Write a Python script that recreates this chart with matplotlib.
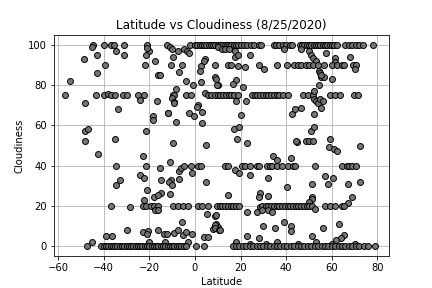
import matplotlib
matplotlib.use("Agg")
import matplotlib.pyplot as plt

# (latitude, cloudiness) pairs, grouped by band
band_100 = [(-44.6,100),(-40,100),(-36.7,100),(-35.7,100),(-31.2,100),(-21,100),(-12.4,100),(-2,100),(0,100),
            (1,100),(2,100),(3,100),(4,100),(5,100),(6,100),(7,100),(8,100),(9,100),(10,100),(11,100),(12,100),
            (13,100),(14,100),(15,100),(16,100),(17,100),(18,100),(19,100),(20,100),(21.5,100),(23,100),(24.5,100),
            (26,100),(28,100),(29,100),(34.5,100),(35.5,100),(37,100),(38.5,100),(40,100),(41.5,100),(42.7,100),
            (46,100),(47,100),(48,100),(49,100),(50,100),(51,100),(52,100),(53,100),(54,100),(55,100),(56,100),
            (57,100),(58,100),(59,100),(60,100),(61,100),(62.5,100),(66,100),(67.5,100),(69,100),(70.5,100),
            (72,100),(73.8,100),(78,100)]
band_92 = [(-45,99),(-34.5,97),(-20,97),(-21,98.3),(-11,99),(-10,98),(-7.6,97),(-5,97.8),(-3.6,97),(-2.7,96),
           (10,99),(12,98),(13.2,97.7),(15,97.7),(17.6,96.6),(39,98),(46.5,98),(50.2,97),(57.6,96),(-43,95),
           (-31,95),(-21.6,95),(-48.6,93),(-9.8,94),(4.3,93),(17.6,94),(18.8,95),(24,95),(51,95),(51.7,93.6),
           (61.3,93.6),(68,94),(-17.5,92),(3.9,92),(53,92),(61.3,91.5)]
band_85 = [(-39.4,90),(-22,90),(-10.5,90),(-5.6,90),(2.8,89.4),(8.6,90),(14.5,90),(16,90),(19,89.5),(22,89),
           (28,90),(30.4,88),(35.8,90),(40.3,90),(43.4,90),(45,90),(46.5,90),(48.8,90),(50.2,90),(51.7,90),
           (54,90),(56.4,90),(60.3,90),(62.5,90),(64.5,90),(65.5,90),(69.2,90),(70.7,90),(70,88),(2,87),
           (-6.8,86.5),(54.5,87),(55,86),(-43,86),(-16,85),(-15.4,85),(8.7,84),(9.2,83),(55.4,84),(56.8,84),
           (60,83),(55.3,85)]
band_78 = [(-55,82),(-1,80),(2.5,81.5),(-4,81.8),(10,80),(18,82.7),(16.5,80.7),(9.8,80),(21,78.8),(-8.3,78),
           (54.3,80)]
band_75 = [(-57,75),(-43.5,75),(-40,75),(-38.2,75.6),(-36.7,75),(-35,75),(-31.7,75),(-30,75),(-24.9,75),
           (-22.4,75),(-23.9,72.5),(-9.8,75),(-9.3,75),(-3.9,75),(-1.6,75),(4.3,76),(5.8,75),(7.2,75),(8.6,75),
           (10,75),(11.2,75),(12.4,75),(13.6,75),(14.8,75),(16,75),(17.2,75),(18.7,75),(25,75),(26.2,75),
           (27.4,75),(28.6,75),(29.8,75),(31,75),(32.2,75),(33.4,75),(34.6,75),(35.8,75),(37,75),(38.4,75),
           (40.6,75),(47.2,75),(49.5,75),(51.7,75),(52.4,77),(52,73),(53,72),(54,71),(55,73),(56,72),(59,75),
           (61.3,75),(63.6,75),(69.8,75),(71.7,75),(-48,71),(-16.8,72),(-10,73.7),(-9,71.7),(-9.3,71),(1.3,70),
           (1,69),(18,72),(22.2,72)]
band_60 = [(-33.8,68),(-11.6,66.3),(-18.2,64.6),(-18.2,62.8),(-12,66),(-2.4,66),(-0.6,64.6),(3,66.7),(20,65),
           (42.4,65.8),(43.9,68.3),(46.5,68.7),(52.4,65.8),(55.4,68.7),(3.3,61.2),(-8.3,61.6)]
band_45 = [(-48,57),(-47,58.2),(-48,52),(-35,53),(-21.6,57),(17.3,58),(19.5,59),(18.4,53),(22.8,51),(-9.5,51),
           (4.8,50),(44.7,51.5),(51,57),(52.4,59),(44.3,52),(48.7,52),(50.2,52),(51.7,52),(59,53),(58.8,49),
           (61,48),(62.3,47),(72.2,49.8),(-42.7,46),(-22.6,45),(34.4,44.8),(36.1,43),(42,44),(-11,42)]
band_40 = [(-34.5,40),(-21.6,40),(-15.4,39),(-6.8,37.5),(-6,39),(-4.6,40),(-1.6,40),(-1.2,36.4),(1.3,40),
           (2.5,40),(13.2,40),(14.7,40),(17.6,38),(19.5,36.5),(20.5,40),(22,40),(24.3,40),(27.2,40),(28.3,40),
           (31.6,40),(33,40),(34,40),(36.1,40),(38.3,40),(40.6,40),(42.8,40),(43.8,40),(52.6,40),(64.3,40),
           (66.5,40),(67.7,40),(69,40),(70.6,40)]
band_30 = [(-24,35.5),(-22.5,33.8),(-32.7,32.7),(-34.5,30.5),(-15,32.7),(-10.5,33),(-11.2,31.7),(-10,30.5),
           (-6.8,33.6),(4.8,31.7),(-21,27.9),(-15,26.6),(-17.9,24.6),(-16.4,25.4),(-22.2,22.9),(-11,25.8),
           (14.3,25.6),(28.4,26.6),(28,24.6),(32,24.7),(24,35.5),(32.2,33.8),(40.2,29.6),(57,34.7),(58.4,30.7),
           (60.5,33.7),(51.4,30.7),(67.3,30.8),(72.2,31.8),(51.5,24.6),(51.3,23.3),(50.2,21.8),(67,21.3),
           (69,24.5)]
band_20 = [(-36.8,20.2),(-28.6,19.7),(-22.7,20),(-21.5,20),(-19.4,20),(-18,20),(-16.4,20),(-17.6,18),
           (-16.4,18),(-9.8,20),(-7.6,20),(-5.3,20),(-3,20),(1.2,20),(3,20),(5.6,20),(5.5,16),(8.8,14.8),
           (9.8,20),(10.8,20),(12,20),(13.2,20),(14.4,20),(15.6,20),(16.8,20),(18,20),(19.3,20),(22.8,17),
           (27,17),(28.6,19.5),(29.6,20),(31,20),(32.2,20),(33.4,20),(34.6,20),(35.8,20),(37,20),(38.2,20),
           (39.4,20),(40.6,20),(41.8,20),(43,20),(44.2,20),(45.4,20),(46.6,20),(47.8,20),(49,20),(50.2,20),
           (51.4,20),(52.7,18.7),(57,20),(59,20),(61.3,20),(64.3,20),(65.5,20),(29.5,18),(32,18),(34,17)]
band_low = [(-30,8),(-22.8,7.3),(-20.5,7.5),(-21,6),(-16,8.3),(-13.6,6.3),(-12.2,6.3),(-9.2,6.8),(-7.6,8),
            (-5.4,5.8),(-4,7),(-1.3,6),(4.1,4.6),(5.6,4.4),(7.8,8.5),(-5.6,12),(9.2,15.3),(9.2,11.1),(10.2,9.4),
            (8.6,10.6),(9,8.9),(10.5,8.1),(11,8),(-39.2,5.2),(-36.2,5.1),(-45.2,2.2),(22.8,5.2),(28,4),(30,10),
            (35.2,9),(39,12),(42,10.2),(42,7.7),(56.2,9),(63.2,11),(51.4,5.3),(65.5,5.4),(64,4.3),(62,3),
            (-20,2),(-13,2),(-3,2),(18,2),(24,1),(31,1),(36,2),(45,1),(53,2),(60,1),(70,1)]
band_0 = [(-47.5,0),(-41,0),(-40,0),(-39,0),(-38,0),(-37,0),(-36,0),(-35,0),(-34,0),(-33,0),(-32,0),(-31,0),
          (-30,0),(-29,0),(-28,0),(-27,0),(-26,0),(-25,0),(-24,0),(-23,0),(-22,0),(-21,0),(-20,0),(-19,0),
          (-18,0),(-17,0),(-16,0),(-15,0),(-14,0),(-13,0),(-12,0),(-11,0),(-10,0),(-9,0),(-8,0),(-7,0),(-6,0),
          (-5,0),(-4,0),(0.5,0),(4,0),(16.5,0),(18,0),(19.5,0),(21,0),(22.5,0),(24,0),(25.5,0),(27,0),(28.5,0),
          (30,0),(31.5,0),(33,0),(34.5,0),(36,0),(37.5,0),(39,0),(40.5,0),(42,0),(43.5,0),(45,0),(46.5,0),
          (48,0),(49.5,0),(51,0),(52.5,0),(54,0),(55.5,0),(57,0),(58.5,0),(60,0),(61.5,0),(63,0),(64.5,0),
          (66,0),(67.5,0),(69,0),(70.5,0),(72,0),(74,0),(76,0),(78.8,0)]

bands = [band_100, band_92, band_85, band_78, band_75, band_60, band_45, band_40, band_30, band_20,
         band_low, band_0]
points = [p for b in bands for p in b]
latitude = [p[0] for p in points]
cloudiness = [p[1] for p in points]

fig = plt.figure(figsize=(6, 4), dpi=72)
ax = fig.add_subplot(111)
ax.scatter(latitude, cloudiness, marker="o", facecolors="#707070", edgecolors="black",
           s=36, linewidths=1.0, alpha=0.95, zorder=3)
ax.set_title("Latitude vs Cloudiness (8/25/2020)")
ax.set_xlabel("Latitude")
ax.set_ylabel("Cloudiness")
ax.set_xticks([-60, -40, -20, 0, 20, 40, 60, 80])
ax.set_yticks([0, 20, 40, 60, 80, 100])
ax.set_xlim(-61.8, 85.0)
ax.set_ylim(-5, 105)
ax.grid(True, color="#b0b0b0", linewidth=0.8, zorder=0)
ax.set_axisbelow(True)
fig.savefig("out.png", dpi=72)
